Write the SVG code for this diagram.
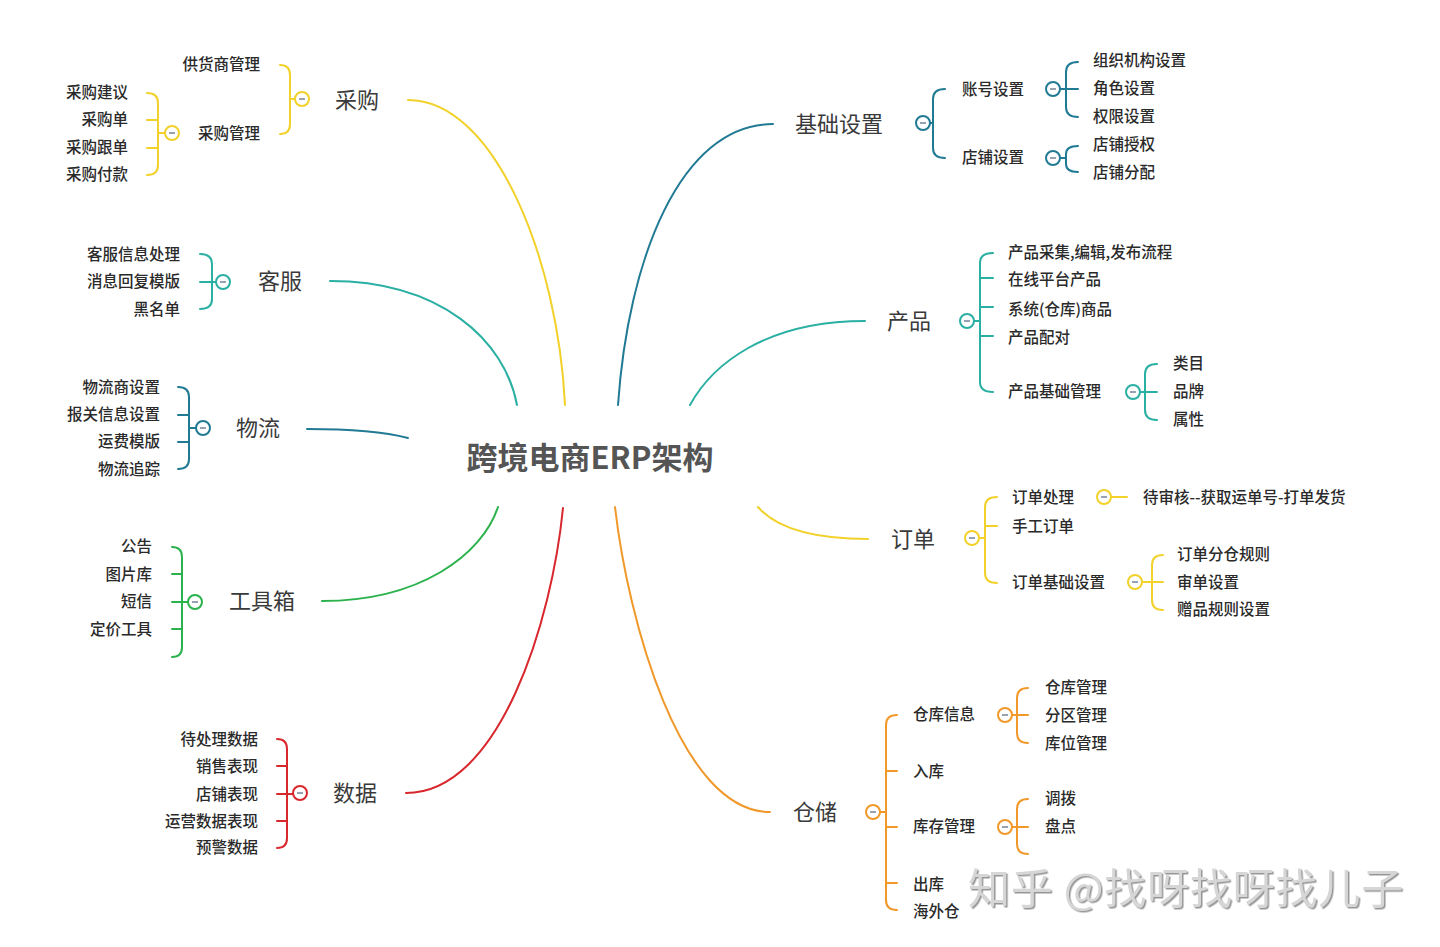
<svg xmlns="http://www.w3.org/2000/svg" width="1440" height="947" viewBox="0 0 1440 947">
<defs>
<style>
text{font-family:"Noto Sans CJK SC","Noto Sans",sans-serif;dominant-baseline:central;transform:translateY(-2px)}
.t{font-size:22px;fill:#3a3a3a}
.c{font-size:15.5px;font-weight:500;fill:#2a2a2a}
.e{text-anchor:end}
.ln{fill:none;stroke-width:2;stroke-linecap:round}
.cir{fill:#fff;stroke-width:2}
.m{stroke:#7d8ba0;stroke-width:1.6}
.yel{stroke:#F2D12A}.tea{stroke:#2AAFA3}.blu{stroke:#217A94}.grn{stroke:#2BB24C}.red{stroke:#D8282E}.org{stroke:#F0992A}
</style>
<filter id="sh" x="-5%" y="-20%" width="110%" height="140%"><feDropShadow dx="1.5" dy="1.5" stdDeviation="0.6" flood-color="#8a8a8a" flood-opacity="0.9"/></filter>
</defs>
<rect width="1440" height="947" fill="#fff"/>

<g id="connectors">
<path class="ln yel" d="M408,100 C495,100 558,260 565,405"/>
<path class="ln tea" d="M330,281 C440,281 505,340 517,405"/>
<path class="ln blu" d="M307,429 C350,429 385,432 408,438"/>
<path class="ln grn" d="M322,601 C420,601 482,555 498,507"/>
<path class="ln red" d="M406,793 C500,793 552,620 563,508"/>
<path class="ln blu" d="M773,124 C680,124 628,260 618,405"/>
<path class="ln tea" d="M865,321 C765,321 712,365 690,405"/>
<path class="ln yel" d="M868,539 C810,539 775,527 758,507"/>
<path class="ln org" d="M770,812 C680,812 628,620 615,507"/>
</g>

<g id="center"><text x="590" y="457" text-anchor="middle" style="font-size:31px;font-weight:700;fill:#555">跨境电商ERP架构</text></g>

<g id="purchase">
<text class="t" x="335" y="100">采购</text>
<path class="ln yel" d="M280,65 Q290,65 290,75 L290,124 Q290,134 280,134 M290,99 H295"/>
<circle class="cir yel" cx="302" cy="99" r="7"/><path class="m" d="M299,99 H305"/>
<text class="c e" x="260" y="65">供货商管理</text>
<text class="c e" x="260" y="134">采购管理</text>
<path class="ln yel" d="M147,93 Q158,93 158,103 L158,165 Q158,175 147,175 M147,120 H158 M147,148 H158 M158,133 H165"/>
<circle class="cir yel" cx="172" cy="133" r="7"/><path class="m" d="M169,133 H175"/>
<text class="c e" x="128" y="93">采购建议</text>
<text class="c e" x="128" y="120">采购单</text>
<text class="c e" x="128" y="148">采购跟单</text>
<text class="c e" x="128" y="175">采购付款</text>
</g>

<g id="service">
<text class="t" x="258" y="281">客服</text>
<path class="ln tea" d="M200,254 Q212,254 212,264 L212,299 Q212,309 200,309 M200,282 H216"/>
<circle class="cir tea" cx="223" cy="282" r="7"/><path class="m" d="M220,282 H226"/>
<text class="c e" x="180" y="255">客服信息处理</text>
<text class="c e" x="180" y="282">消息回复模版</text>
<text class="c e" x="180" y="310">黑名单</text>
</g>

<g id="logistics">
<text class="t" x="236" y="428">物流</text>
<path class="ln blu" d="M178,387 Q189,387 189,397 L189,459 Q189,469 178,469 M178,415 H189 M178,442 H189 M189,428 H196"/>
<circle class="cir blu" cx="203" cy="428" r="7"/><path class="m" d="M200,428 H206"/>
<text class="c e" x="160" y="388">物流商设置</text>
<text class="c e" x="160" y="415">报关信息设置</text>
<text class="c e" x="160" y="442">运费模版</text>
<text class="c e" x="160" y="470">物流追踪</text>
</g>

<g id="toolbox">
<text class="t" x="229" y="601">工具箱</text>
<path class="ln grn" d="M172,547 Q182,547 182,557 L182,647 Q182,657 172,657 M172,574 H182 M172,602 H188 M172,629 H182"/>
<circle class="cir grn" cx="195" cy="602" r="7"/><path class="m" d="M192,602 H198"/>
<text class="c e" x="152" y="547">公告</text>
<text class="c e" x="152" y="575">图片库</text>
<text class="c e" x="152" y="602">短信</text>
<text class="c e" x="152" y="630">定价工具</text>
</g>

<g id="data">
<text class="t" x="333" y="793">数据</text>
<path class="ln red" d="M277,739 Q287,739 287,749 L287,838 Q287,848 277,848 M277,766 H287 M277,794 H293 M277,821 H287"/>
<circle class="cir red" cx="300" cy="793" r="7"/><path class="m" d="M297,793 H303"/>
<text class="c e" x="258" y="740">待处理数据</text>
<text class="c e" x="258" y="767">销售表现</text>
<text class="c e" x="258" y="795">店铺表现</text>
<text class="c e" x="258" y="822">运营数据表现</text>
<text class="c e" x="258" y="848">预警数据</text>
</g>

<g id="basic">
<text class="t" x="795" y="124">基础设置</text>
<path class="ln blu" d="M945,89 Q933,89 933,99 L933,148 Q933,158 945,158 M930,123 H933"/>
<circle class="cir blu" cx="923" cy="123" r="7"/><path class="m" d="M920,123 H926"/>
<text class="c" x="962" y="90">账号设置</text>
<text class="c" x="962" y="158">店铺设置</text>
<path class="ln blu" d="M1078,62 Q1066,62 1066,72 L1066,107 Q1066,117 1078,117 M1060,89 H1078"/>
<circle class="cir blu" cx="1053" cy="89" r="7"/><path class="m" d="M1050,89 H1056"/>
<text class="c" x="1093" y="61">组织机构设置</text>
<text class="c" x="1093" y="89">角色设置</text>
<text class="c" x="1093" y="117">权限设置</text>
<path class="ln blu" d="M1078,146 Q1066,146 1066,154 L1066,164 Q1066,172 1078,172 M1060,158 H1066"/>
<circle class="cir blu" cx="1053" cy="158" r="7"/><path class="m" d="M1050,158 H1056"/>
<text class="c" x="1093" y="145">店铺授权</text>
<text class="c" x="1093" y="173">店铺分配</text>
</g>

<g id="product">
<text class="t" x="887" y="321">产品</text>
<path class="ln tea" d="M993,253 Q980,253 980,263 L980,382 Q980,392 993,392 M980,278 H993 M980,307 H993 M980,336 H993 M974,321 H980"/>
<circle class="cir tea" cx="967" cy="321" r="7"/><path class="m" d="M964,321 H970"/>
<text class="c" x="1008" y="253">产品采集,编辑,发布流程</text>
<text class="c" x="1008" y="280">在线平台产品</text>
<text class="c" x="1008" y="310">系统(仓库)商品</text>
<text class="c" x="1008" y="338">产品配对</text>
<text class="c" x="1008" y="392">产品基础管理</text>
<path class="ln tea" d="M1157,364 Q1145,364 1145,374 L1145,410 Q1145,420 1157,420 M1140,392 H1157"/>
<circle class="cir tea" cx="1133" cy="392" r="7"/><path class="m" d="M1130,392 H1136"/>
<text class="c" x="1173" y="364">类目</text>
<text class="c" x="1173" y="392">品牌</text>
<text class="c" x="1173" y="420">属性</text>
</g>

<g id="order">
<text class="t" x="891" y="539">订单</text>
<path class="ln yel" d="M997,497 Q985,497 985,507 L985,573 Q985,583 997,583 M985,526 H997 M979,538 H985"/>
<circle class="cir yel" cx="972" cy="538" r="7"/><path class="m" d="M969,538 H975"/>
<text class="c" x="1012" y="498">订单处理</text>
<text class="c" x="1012" y="527">手工订单</text>
<text class="c" x="1012" y="583">订单基础设置</text>
<path class="ln yel" d="M1111,497 H1127"/>
<circle class="cir yel" cx="1104" cy="497" r="7"/><path class="m" d="M1101,497 H1107"/>
<text class="c" x="1143" y="498">待审核--获取运单号-打单发货</text>
<path class="ln yel" d="M1163,555 Q1152,555 1152,565 L1152,600 Q1152,610 1163,610 M1142,582 H1163"/>
<circle class="cir yel" cx="1135" cy="582" r="7"/><path class="m" d="M1132,582 H1138"/>
<text class="c" x="1177" y="555">订单分仓规则</text>
<text class="c" x="1177" y="583">审单设置</text>
<text class="c" x="1177" y="610">赠品规则设置</text>
</g>

<g id="warehouse">
<text class="t" x="793" y="812">仓储</text>
<path class="ln org" d="M897,715 Q886,715 886,725 L886,900 Q886,910 897,910 M886,771 H897 M880,812 H886 M886,827 H897 M886,883 H897"/>
<circle class="cir org" cx="873" cy="812" r="7"/><path class="m" d="M870,812 H876"/>
<text class="c" x="913" y="715">仓库信息</text>
<text class="c" x="913" y="772">入库</text>
<text class="c" x="913" y="827">库存管理</text>
<text class="c" x="913" y="885">出库</text>
<text class="c" x="913" y="912">海外仓</text>
<path class="ln org" d="M1028,688 Q1017,688 1017,698 L1017,733 Q1017,743 1028,743 M1012,715 H1028"/>
<circle class="cir org" cx="1005" cy="715" r="7"/><path class="m" d="M1002,715 H1008"/>
<text class="c" x="1045" y="688">仓库管理</text>
<text class="c" x="1045" y="716">分区管理</text>
<text class="c" x="1045" y="744">库位管理</text>
<path class="ln org" d="M1028,799 Q1017,799 1017,809 L1017,844 Q1017,854 1028,854 M1012,827 H1028"/>
<circle class="cir org" cx="1005" cy="827" r="7"/><path class="m" d="M1002,827 H1008"/>
<text class="c" x="1045" y="799">调拨</text>
<text class="c" x="1045" y="827">盘点</text>
</g>

<g id="watermark"><text x="968" y="887" filter="url(#sh)" style="font-size:42px;letter-spacing:0.8px;fill:#d6d6d6">知乎 @找呀找呀找儿子</text></g>
</svg>
